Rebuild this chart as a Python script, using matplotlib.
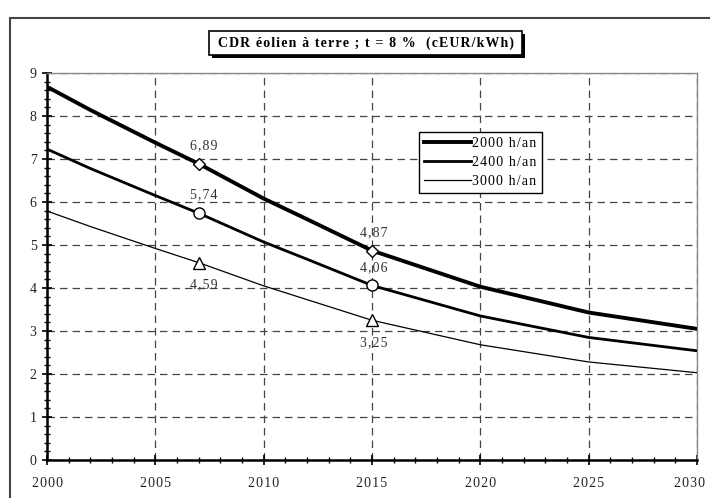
import matplotlib
matplotlib.use("Agg")
import matplotlib.pyplot as plt
from matplotlib.ticker import MultipleLocator, FuncFormatter
from matplotlib.patches import Rectangle
from matplotlib.transforms import ScaledTranslation

plt.rcParams['font.family'] = ['Liberation Serif', 'DejaVu Serif']

# données (cEUR/kWh)
annees = [2000, 2002, 2005, 2007, 2010, 2012, 2015, 2020, 2025, 2030]
cdr_2000h = [8.68, 8.14, 7.38, 6.89, 6.08, 5.60, 4.87, 4.03, 3.43, 3.05]
cdr_2400h = [7.23, 6.78, 6.15, 5.74, 5.07, 4.67, 4.06, 3.35, 2.85, 2.54]
cdr_3000h = [5.79, 5.43, 4.92, 4.59, 4.05, 3.73, 3.25, 2.68, 2.28, 2.03]
series_noms = ['2000 h/an', '2400 h/an', '3000 h/an']

# points repérés
annees_pts = [2007, 2015]


def espacer(s, sep='\u200a'):
    # espacement des lettres façon Excel
    return sep.join(s)


fig = plt.figure(figsize=(7.1, 4.98), dpi=100)
ax = fig.add_axes([0.0662, 0.0763, 0.9155, 0.7771])

series = [cdr_2000h, cdr_2400h, cdr_3000h]
largeurs = [2.8, 2.0, 0.9]
marqueurs = ['D', 'o', '^']
tailles = [6, 8, 8]
decalages = [13, 13, -16]

for vals, nom, lw, mk, ms, dy in zip(series, series_noms, largeurs, marqueurs, tailles, decalages):
    ax.plot(annees, vals, color='black', lw=lw, label=espacer(nom), zorder=3)
    for a in annees_pts:
        v = vals[annees.index(a)]
        ax.plot(a, v, marker=mk, ms=ms, mfc='white', mec='black', mew=1.0,
                ls='none', zorder=4)
        ax.annotate(espacer(f"{v:.2f}".replace('.', ',')), (a, v),
                    xytext=(4 if a == 2007 else 1, dy),
                    textcoords='offset points', ha='center', va='center',
                    fontsize=10, color='#333333')

ax.set_xlim(2000, 2030)
ax.set_ylim(0, 9)
ax.xaxis.set_major_locator(MultipleLocator(5))
ax.xaxis.set_minor_locator(MultipleLocator(1))
ax.yaxis.set_major_locator(MultipleLocator(1))
ax.yaxis.set_minor_locator(MultipleLocator(0.2))
ax.xaxis.set_major_formatter(FuncFormatter(lambda v, p: espacer(f"{v:.0f}")))
ax.tick_params(axis='both', which='major', direction='inout', length=7, width=1.2,
               labelsize=10, labelcolor='#222222')
ax.tick_params(axis='both', which='minor', direction='inout', length=4, width=1.0)
ax.tick_params(axis='x', which='major', pad=9)
ax.tick_params(axis='y', which='major', pad=4)

ax.grid(True, which='major', ls=(0, (6, 4)), color='#444444', lw=0.9)
ax.spines['left'].set_linewidth(1.8)
ax.spines['bottom'].set_linewidth(1.8)
for s in ['top', 'right']:
    ax.spines[s].set_color('#888888')
    ax.spines[s].set_linewidth(1.0)

# étiquette 2030 un peu décalée pour rester dans l'image
fig.canvas.draw()
for tick in ax.xaxis.get_major_ticks():
    if tick.label1.get_text() == espacer('2030'):
        tick.label1.set_transform(tick.label1.get_transform()
                                  + ScaledTranslation(-0.08, 0, fig.dpi_scale_trans))

leg = ax.legend(loc='upper left', bbox_to_anchor=(419 / 710, 1 - 132 / 498),
                bbox_transform=fig.transFigure, frameon=True, fancybox=False,
                fontsize=10, handlelength=3.4, handletextpad=0.1, labelspacing=0.45,
                borderpad=0.35, borderaxespad=0)
leg.get_frame().set_edgecolor('black')
leg.get_frame().set_linewidth(1.0)
leg.get_frame().set_alpha(1)

# cadre extérieur
fig.patches.append(Rectangle((10 / 710, -0.05), 1.1, 1 - 18 / 498 + 0.05,
                             transform=fig.transFigure, fill=False,
                             ec='#444444', lw=1.5))

# titre encadré avec ombre
x0, y0, w, h = 209 / 710, 1 - 55 / 498, 313 / 710, 24 / 498
fig.patches.append(Rectangle((x0 + 3 / 710, y0 - 3 / 498), w, h, transform=fig.transFigure,
                             fc='black', ec='black', lw=0))
fig.patches.append(Rectangle((x0, y0), w, h, transform=fig.transFigure,
                             fc='white', ec='black', lw=1.2))
fig.text(x0 + w / 2, y0 + h / 2, espacer("CDR éolien à terre ; t = 8 %  (cEUR/kWh)"),
         ha='center', va='center', fontsize=10, fontweight='bold')

fig.savefig('out.png', dpi=100)
